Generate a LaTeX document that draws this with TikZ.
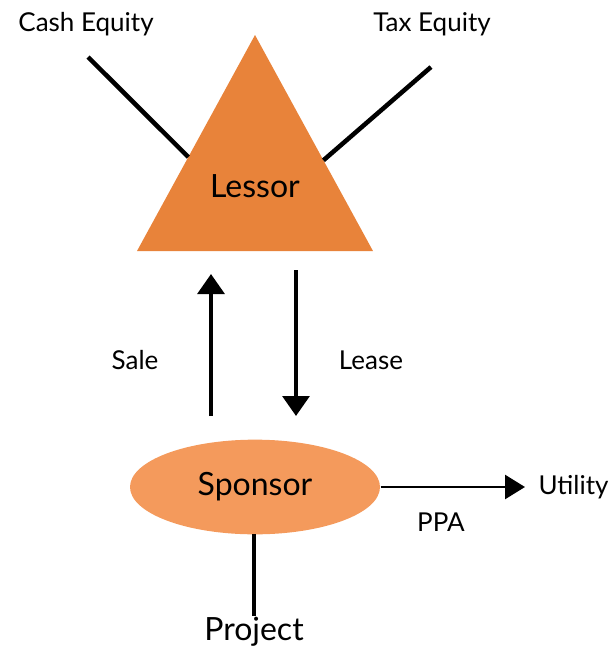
\documentclass[tikz,border=0pt]{standalone}
\usepackage{fontspec}
\setmainfont{Lato}
\usetikzlibrary{shapes.geometric,arrows.meta,calc}

\definecolor{lessorfill}{RGB}{232,131,58}
\definecolor{sponsorfill}{RGB}{244,154,92}

\tikzset{every picture/.style={line width=0.75pt},
  smalllabel/.style={inner sep=0.75pt,font=\fontsize{19.5}{22}\selectfont},
  biglabel/.style={inner sep=0.75pt,font=\fontsize{24}{28}\selectfont},
  thickline/.style={line width=3.4pt},
  flowarrow/.style={line width=3.2pt,-{Triangle[width=20pt,length=15pt]}},
  ppaarrow/.style={line width=2pt,shorten >=9pt,-{Triangle[width=18pt,length=15pt]}}}

\begin{document}
\begin{tikzpicture}[x=0.75pt,y=0.75pt,yscale=-1,xscale=1]
\useasboundingbox (0,0) rectangle (610,651);

%Shape: Triangle [id:lessor]
\coordinate (apex) at (255,35);
\coordinate (baseleft) at (137,251);
\coordinate (baseright) at (373,251);
\fill [lessorfill] (apex) -- (baseright) -- (baseleft) -- cycle ;
%Shape: Ellipse [id:sponsor]
\node (sponsor) [ellipse,fill=sponsorfill,minimum width=187.5pt,minimum height=71pt,inner sep=0pt] at (255,487) {};

% Text Node
\node (lessor) [biglabel] at (255,186) {Lessor};
% Text Node
\node (cashequity) [smalllabel] at (86,24) {Cash Equity};
% Text Node
\node (taxequity) [smalllabel] at (432,24) {Tax Equity};
% Text Node
\node [biglabel] at (sponsor.center) {Sponsor};
% Text Node
\node (sale) [smalllabel] at (135,360) {Sale};
% Text Node
\node (lease) [smalllabel] at (371,360) {Lease};
% Text Node
\node (utility) [smalllabel,anchor=west] at (537,487) {Utility};
% Text Node
\node (ppa) [smalllabel] at (441,522) {PPA};
% Text Node
\node (project) [biglabel] at (254,632) {Project};

%Straight Lines [id:equity]
\coordinate (ceqend) at (88,57);
\coordinate (teqend) at (431,67);
\draw [thickline] (ceqend) -- ($(apex)!0.565!(baseleft)$) ;
\draw [thickline] (teqend) -- ($(apex)!0.58!(baseright)$) ;
%Straight Lines [id:salelease]
\coordinate (salestart) at (211,416);
\coordinate (saleend) at (211,274);
\coordinate (leasestart) at (296,270);
\coordinate (leaseend) at (296,416);
\draw [flowarrow] (salestart) -- (saleend) ;
\draw [flowarrow] (leasestart) -- (leaseend) ;
%Straight Lines [id:ppa]
\draw [ppaarrow] (sponsor.east) -- (utility.west) ;
%Straight Lines [id:project]
\draw [thickline] (sponsor.south -| project.north) ++(0,-1) -- (project.north) ;

\end{tikzpicture}
\end{document}
